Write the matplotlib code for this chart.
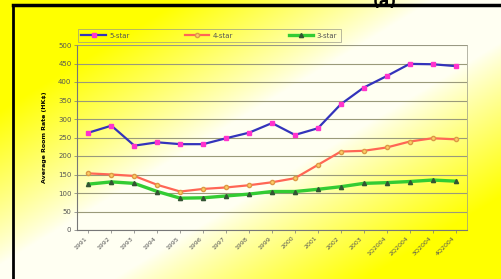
import numpy as np
import matplotlib
matplotlib.use("Agg")
import matplotlib.pyplot as plt

years = ["1991", "1992", "1993", "1994", "1995", "1996", "1997", "1998", "1999",
         "2000", "2001", "2002", "2003", "1Q2004", "2Q2004", "3Q2004", "4Q2004"]
five_star = [263, 282, 228, 237, 232, 232, 248, 263, 289, 257, 275, 340, 385, 416, 449, 448, 443]
four_star = [153, 150, 146, 122, 104, 111, 115, 121, 129, 140, 176, 212, 214, 223, 239, 248, 245]
three_star = [124, 130, 126, 104, 86, 87, 92, 97, 104, 104, 110, 117, 126, 128, 131, 135, 132]
series_names = ["5-star", "4-star", "3-star"]
yticks = list(range(0, 501, 50))

W, H = 502, 279
fig = plt.figure(figsize=(W / 100, H / 100), dpi=100)

# background gradient (yellow corners top-left / bottom-right, pale diagonal)
bg = fig.add_axes([0, 0, 1, 1], zorder=-10)
gx, gy = np.meshgrid(np.linspace(0, 1, 300), np.linspace(0, 1, 200))
s = gx * 1.1 + gy
w = np.clip((np.abs(s - 1.1) - 0.15) * 1.7, 0, 1) ** 0.9
img = np.ones((200, 300, 3))
img[..., 2] = np.clip(0.95 - w, 0, 1)
bg.imshow(img, extent=[0, 1, 0, 1], aspect="auto", origin="upper")
bg.set_xlim(0, 1)
bg.set_ylim(0, 1)
bg.axis("off")
# frame lines (top and left)
bg.plot([13 / W, 13 / W], [0, 1 - 5 / H], color="black", lw=2)
bg.plot([13 / W, 1], [1 - 5 / H, 1 - 5 / H], color="black", lw=2.5)

fig.text(385 / W, 1.0 - 1 / H, "(a)", fontsize=11, fontweight="bold", ha="center", va="center")

ax = fig.add_axes([77 / W, 1 - 230 / H, (467 - 77) / W, (230 - 45) / H])
ax.patch.set_alpha(0)
x = np.arange(len(years))
ax.plot(x, five_star, color="#3333bb", lw=1.6, marker="s", ms=3,
        mfc="#ff33cc", mec="#ff33cc", label=series_names[0], zorder=3)
ax.plot(x, four_star, color="#ff6655", lw=1.6, marker="o", ms=3,
        mfc="#ffcc66", mec="#dd9944", label=series_names[1], zorder=3)
ax.plot(x, three_star, color="#33cc33", lw=2.4, marker="^", ms=3,
        mfc="#335533", mec="#335533", label=series_names[2], zorder=3)

ax.set_xlim(-0.5, len(years) - 0.5)
ax.set_ylim(0, 500)
ax.set_yticks(yticks)
ax.set_yticklabels([str(v) for v in yticks], fontsize=5, color="#555555")
ax.set_xticks(x)
ax.set_xticklabels(years, fontsize=4.5, rotation=45, ha="right", color="#555555")
ax.tick_params(axis="both", length=2, width=0.5, color="#777777", pad=2)
ax.grid(axis="y", color="#9a9a7a", lw=0.8)
ax.set_axisbelow(True)
for side in ["top", "right"]:
    ax.spines[side].set_color("#999988")
    ax.spines[side].set_linewidth(0.5)
for side in ["left", "bottom"]:
    ax.spines[side].set_color("#777777")
    ax.spines[side].set_linewidth(0.8)

ax.set_ylabel("Average Room Rate (HK$)", fontsize=4.5, fontweight="bold", labelpad=8)

leg = fig.legend(loc="lower left", bbox_to_anchor=(78 / W, 1 - 42 / H), ncol=3,
                 fontsize=5, frameon=True, handlelength=3.5, columnspacing=8,
                 borderpad=0.5, borderaxespad=0, handletextpad=0.5,
                 bbox_transform=fig.transFigure)
leg.get_frame().set_facecolor("none")
leg.get_frame().set_edgecolor("#999988")
leg.get_frame().set_linewidth(0.6)
leg.get_frame().set_boxstyle("square", pad=0)
for t in leg.get_texts():
    t.set_color("#555555")

fig.savefig("out.png", dpi=100)
